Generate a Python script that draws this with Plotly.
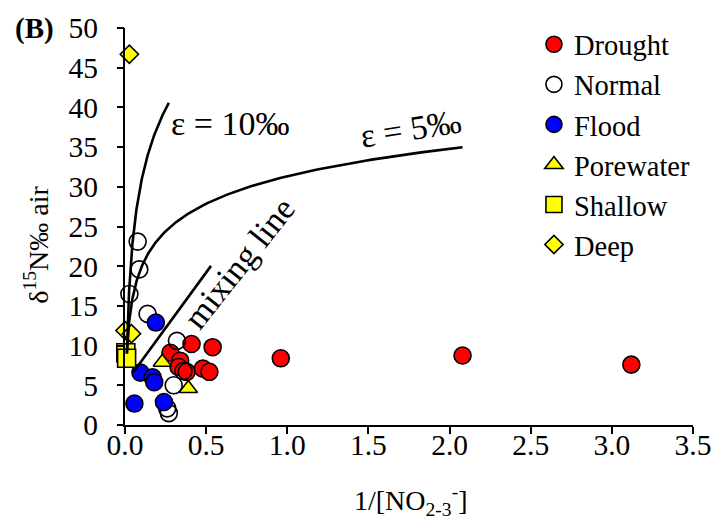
import numpy as np
import plotly.graph_objects as go

# ---- sample data: x = 1/[NO2-3-], y = d15N (permil vs air) ----
drought_x = [0.41, 0.54, 0.28, 0.34, 0.33, 0.38, 0.48, 0.52, 0.96, 2.08, 3.12]
drought_y = [10.2, 9.8, 9.1, 8.1, 7.3, 6.7, 7.1, 6.7, 8.4, 8.75, 7.6]

normal_x = [0.078, 0.088, 0.027, 0.139, 0.32, 0.36, 0.30, 0.26, 0.27]
normal_y = [23.1, 19.6, 16.5, 14.0, 10.6, 6.8, 5.0, 2.1, 1.5]

flood_x = [0.19, 0.095, 0.17, 0.18, 0.058, 0.24]
flood_y = [12.9, 6.6, 6.0, 5.4, 2.7, 2.9]

pore_x = [0.23, 0.39]
pore_y = [7.9, 4.6]

shallow_x = [0.005, 0.01]
shallow_y = [9.1, 8.4]

deep_x = [0.0, 0.04, 0.027]
deep_y = [11.9, 11.5, 46.7]

# ---- Rayleigh fractionation curves: d = d0 + eps * ln(x / x0) ----
ray_d0 = 9.0
ray_x0 = 0.0115
ray_eps = [10.0, 5.0]
ray_xend = [0.27, 2.08]

# ---- mixing line: d = a + b * x ----
mix_a = 5.2
mix_b = 28.0
mix_xrange = [0.05, 0.53]

FONT = "Liberation Serif"
Y_RANGE = [0, 50]

fig = go.Figure()

# model lines live on the companion y axis (same range) so its tick marks are drawn
for eps, xend in zip(ray_eps, ray_xend):
    xs = np.logspace(np.log10(ray_x0), np.log10(xend), 200)
    ys = ray_d0 + eps * np.log(xs / ray_x0)
    fig.add_trace(go.Scatter(x=xs, y=ys, mode="lines", showlegend=False, yaxis="y2",
                             line=dict(color="black", width=2.6),
                             hoverinfo="skip", cliponaxis=False))

mx = np.array(mix_xrange)
fig.add_trace(go.Scatter(x=mx, y=mix_a + mix_b * mx, mode="lines", showlegend=False,
                         yaxis="y2", line=dict(color="black", width=2.6),
                         cliponaxis=False))

outline = dict(color="black", width=1.6)
series = [
    ("Drought", drought_x, drought_y, "circle", "#FF0000", 17),
    ("Normal", normal_x, normal_y, "circle", "rgba(255,255,255,0)", 17),
    ("Flood", flood_x, flood_y, "circle", "#0000FF", 17),
    ("Porewater", pore_x, pore_y, "triangle-up", "#FFFF00", 16),
    ("Shallow", shallow_x, shallow_y, "square", "#FFFF00", 18),
    ("Deep", deep_x, deep_y, "diamond", "#FFFF00", 14),
]
for i, (name, xs, ys, sym, col, size) in enumerate(series):
    fig.add_trace(go.Scatter(
        x=xs, y=ys, mode="markers", name=name, legendgroup=f"g{i}",
        marker=dict(symbol=sym, color=col, size=size, line=outline),
        cliponaxis=False))

ann_font = dict(family=FONT, size=34, color="black")
fig.add_annotation(x=0.646, y=38.0, text="ε = 10‰", showarrow=False, font=ann_font)
fig.add_annotation(x=1.76, y=37.4, text="ε = 5‰", showarrow=False, font=ann_font,
                   textangle=-9)
fig.add_annotation(x=0.70, y=20.4, text="mixing line", showarrow=False, font=ann_font,
                   textangle=-51.5)

# panel tag and axis titles
centered = dict(xref="paper", yref="paper", showarrow=False,
                xanchor="center", yanchor="middle")
fig.add_annotation(x=-0.159, y=1.0, text="<b>(B)</b>",
                   font=dict(family=FONT, size=29, color="black"), **centered)
fig.add_annotation(x=-0.156, y=0.455, text="δ<sup>15</sup>N‰ air", textangle=-90,
                   font=dict(family=FONT, size=28, color="black"), **centered)
fig.add_annotation(x=0.503, y=-0.19, text="1/[NO<sub>2-3</sub><sup>-</sup>]",
                   font=dict(family=FONT, size=28, color="black"), **centered)

tick_font = dict(family=FONT, size=29.5, color="black")
fig.update_xaxes(range=[0, 3.5], dtick=0.5, tickformat=".1f", showgrid=False,
                 zeroline=False, showline=True, linecolor="black", linewidth=2,
                 ticks="outside", ticklen=7, tickwidth=2, tickcolor="black",
                 tickfont=tick_font, ticklabelstandoff=-14)
# labelled y axis: long invisible ticks push the labels away from the axis line
fig.update_yaxes(range=Y_RANGE, dtick=5, showgrid=False, zeroline=False,
                 showline=True, linecolor="black", linewidth=2,
                 ticks="outside", ticklen=19, tickwidth=2,
                 tickcolor="rgba(0,0,0,0)", tickfont=tick_font)

fig.update_layout(
    width=723, height=525,
    margin=dict(l=125, r=21, t=25, b=100),
    plot_bgcolor="white", paper_bgcolor="white",
    font=dict(family=FONT, color="black"),
    # companion axis that draws the short visible tick marks
    yaxis2=dict(overlaying="y", anchor="x", side="left", range=Y_RANGE, dtick=5,
                showgrid=False, zeroline=False, showline=False,
                showticklabels=False, ticks="outside", ticklen=7, tickwidth=2,
                tickcolor="black"),
    legend=dict(x=0.72, y=1.022, xanchor="left", yanchor="top",
                font=dict(family=FONT, size=28.5, color="black"),
                bgcolor="rgba(0,0,0,0)", tracegroupgap=0, itemwidth=30),
)

fig.write_html("out.html")
